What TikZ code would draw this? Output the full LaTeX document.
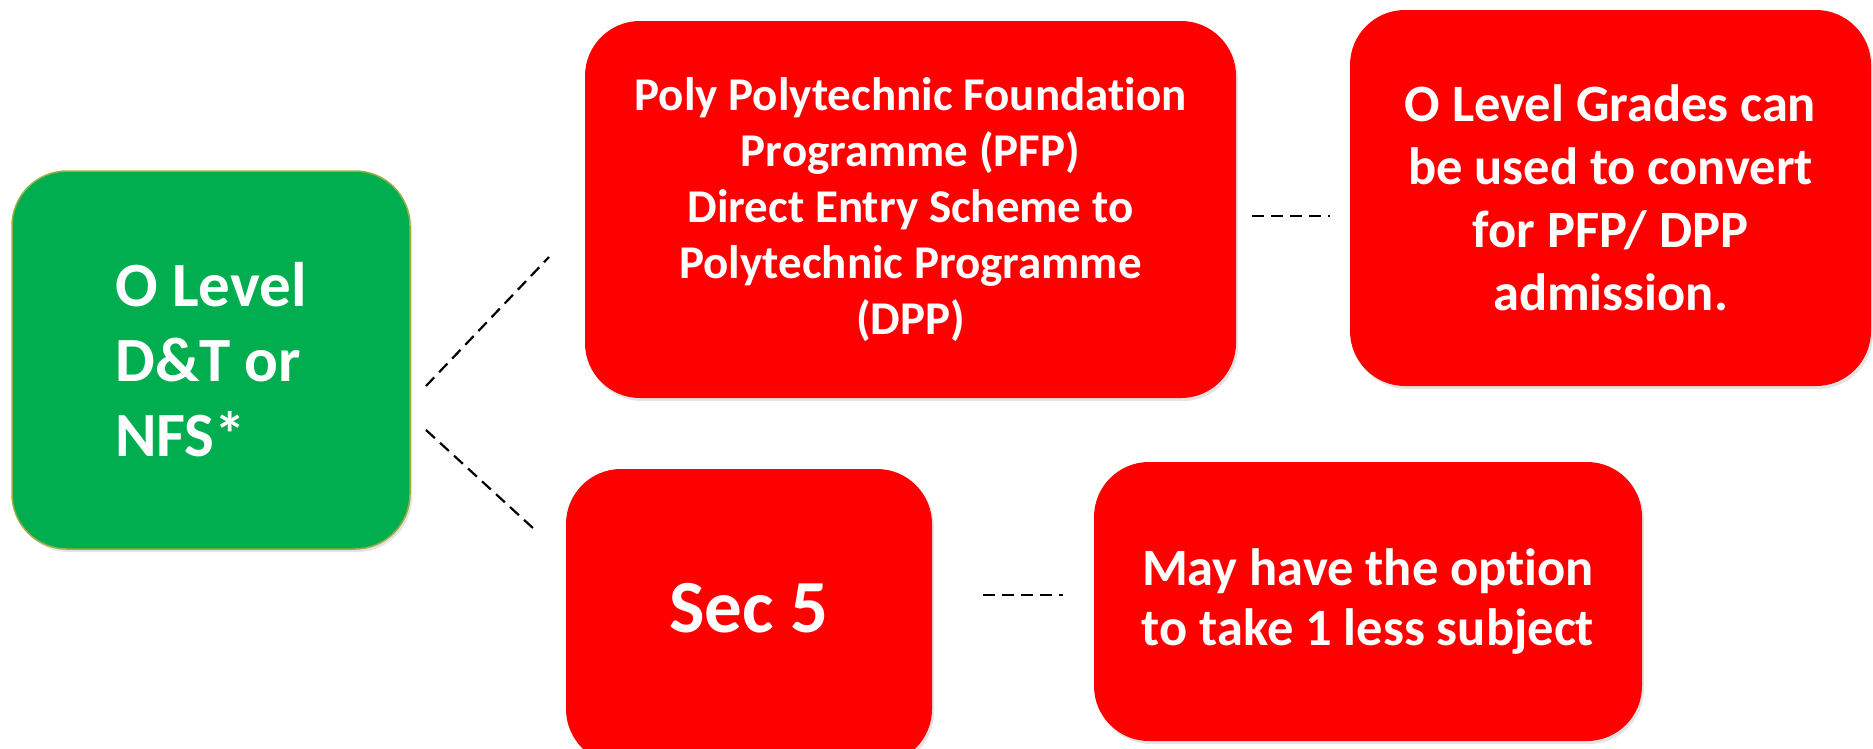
\documentclass[tikz,border=0pt]{standalone}
\usepackage{fontspec}
\setmainfont{Carlito}[Ligatures=NoCommon]
\usetikzlibrary{shadows}
\definecolor{boxred}{RGB}{255,0,0}
\definecolor{boxgreen}{RGB}{0,174,80}
\definecolor{greenedge}{RGB}{150,175,70}
\begin{document}
\begin{tikzpicture}[x=1pt,y=-1pt,
  box/.style={rounded corners=55pt, text=white, align=center, inner sep=0pt,
    drop shadow={shadow xshift=2pt,shadow yshift=-3pt,opacity=0.22}},
  redbox/.style={box, fill=boxred},
  link/.style={line width=2.2pt, black, dash pattern=on 12pt off 7pt}]
\useasboundingbox (0,0) rectangle (1873,748);
\node[box, fill=boxgreen, draw=greenedge, line width=1.5pt,
  minimum width=398pt, minimum height=378pt, align=left,
  font=\bfseries\fontsize{63}{75}\selectfont] (green) at (211,360) {O Level\\D\&T or\\NFS*};
\node[redbox, minimum width=651pt, minimum height=377pt,
  font=\bfseries\fontsize{47}{56}\selectfont] (pfp) at (910.5,209.5)
  {Poly Polytechnic Foundation\\Programme (PFP)\\Direct Entry Scheme to\\Polytechnic Programme\\(DPP)};
\node[redbox, minimum width=521pt, minimum height=376pt,
  font=\bfseries\fontsize{52.5}{63}\selectfont] (grades) at (1610.5,198)
  {O Level Grades can\\be used to convert\\for PFP/ DPP\\admission.};
\node[redbox, minimum width=366pt, minimum height=295pt, text depth=18pt,
  font=\bfseries\fontsize{75}{90}\selectfont] (sec) at (749,616.5) {Sec 5};
\node[redbox, minimum width=548pt, minimum height=279pt,
  font=\bfseries\fontsize{52.5}{60}\selectfont] (option) at (1368,601.5)
  {May have the option\\to take 1 less subject};
\coordinate (d1s) at (426,386);
\coordinate (d1e) at (549,257);
\coordinate (d2s) at (426,430);
\coordinate (d2e) at (534,529);
\coordinate (h1s) at (1252,216);
\coordinate (h1e) at (1330,216);
\coordinate (h2s) at (983,595);
\coordinate (h2e) at (1063,595);
\draw[link] (d1s) -- (d1e);
\draw[link] (d2s) -- (d2e);
\draw[link] (h1s) -- (h1e);
\draw[link] (h2s) -- (h2e);
\end{tikzpicture}
\end{document}
